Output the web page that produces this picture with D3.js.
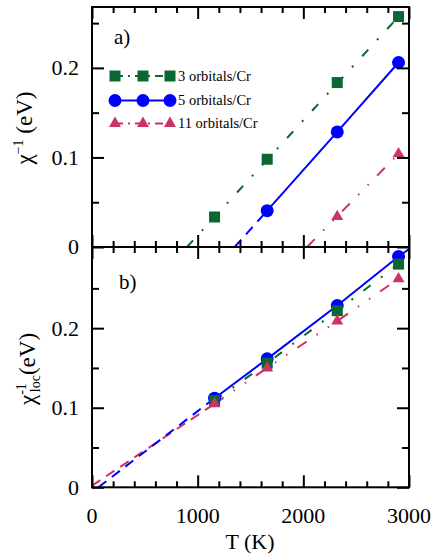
<!DOCTYPE html>
<html>
<head>
<meta charset="utf-8">
<script src="https://cdn.jsdelivr.net/npm/d3@7"></script>
</head>
<body style="margin:0">
<script>
// temperatures (K)
var temps = [1160, 1658, 2321, 2901];

// panel a: inverse susceptibility chi^-1 (eV)
var a_3orb = [0.0335, 0.098, 0.1836, 0.2573];
var a_5orb_T = [1658, 2321, 2901];
var a_5orb = [0.0406, 0.1285, 0.206];
var a_11orb_T = [2321, 2901];
var a_11orb = [0.034, 0.104];

// linear fits extended to zero (panel a)
var a_3orb_fit = [[899, 0], [2901, 0.2573]];
var a_5orb_ext = [[1350, 0], [1658, 0.0406]];
var a_11orb_fit = [[2035, 0], [2901, 0.104]];

// panel b: local inverse susceptibility (eV)
var b_3orb = [0.109, 0.156, 0.222, 0.2805];
var b_5orb = [0.112, 0.1614, 0.2285, 0.29];
var b_11orb = [0.105, 0.15, 0.209, 0.262];
var b_5orb_ext = [[60, 0], [1160, 0.112]];
var b_5orb_tail = [[2901, 0.29], [3000, 0.2995]];
var b_11orb_ext = [[0, 0.002], [1160, 0.105]];

var legend_labels = ['3 orbitals/Cr', '5 orbitals/Cr', '11 orbitals/Cr'];
var xTicks = [0, 1000, 2000, 3000];

var width = 435, height = 556;
var left = 92, right = 409;
var green = '#0a6632', blue = '#0000ff', pink = '#cc3366';
var fontName = 'Times New Roman';

var svg = d3.select('body').append('svg')
  .attr('width', width).attr('height', height);

var x = d3.scaleLinear().domain([0, 3000]).range([left, right]);
var ya = d3.scaleLinear().domain([0, 0.268]).range([247, 7]);
var yb = d3.scaleLinear().domain([0, 0.302]).range([487.3, 247]);

var line = function(yScale){
  return d3.line().x(function(d){ return x(d[0]); }).y(function(d){ return yScale(d[1]); });
};
function zip(ts, vs){ return ts.map(function(t, i){ return [t, vs[i]]; }); }

var dashDot = '9,13,2,13';
var dashDotDot = '11,12,1.5,12,1.5,12';
var dashed = '10,7';

function drawPath(g, data, yScale, color, dash, w){
  g.append('path').datum(data)
    .attr('d', line(yScale))
    .attr('fill', 'none')
    .attr('stroke', color)
    .attr('stroke-width', w || 2)
    .attr('stroke-dasharray', dash || null);
}

function drawMarkers(g, data, yScale, kind){
  var sel = g.append('g').selectAll('.m').data(data).enter();
  if(kind == 'square'){
    sel.append('rect')
      .attr('x', function(d){ return x(d[0]) - 5.5; })
      .attr('y', function(d){ return yScale(d[1]) - 5.5; })
      .attr('width', 11).attr('height', 11)
      .attr('fill', green);
  } else if(kind == 'circle'){
    sel.append('circle')
      .attr('cx', function(d){ return x(d[0]); })
      .attr('cy', function(d){ return yScale(d[1]); })
      .attr('r', 6.5).attr('fill', blue);
  } else {
    sel.append('path')
      .attr('d', d3.symbol().type(d3.symbolTriangle).size(62))
      .attr('transform', function(d){ return 'translate(' + x(d[0]) + ',' + yScale(d[1]) + ')'; })
      .attr('fill', pink);
  }
}

function label(parent, size){
  return parent.append('text').attr('font-family', fontName).attr('font-size', size);
}

// clip areas
svg.append('clipPath').attr('id', 'clipA').append('rect')
  .attr('x', left).attr('y', 7).attr('width', right - left).attr('height', 240);
svg.append('clipPath').attr('id', 'clipB').append('rect')
  .attr('x', left).attr('y', 247).attr('width', right - left).attr('height', 240.3);

// ---- panel a ----
var ga = svg.append('g').attr('clip-path', 'url(#clipA)');
drawPath(ga, a_3orb_fit, ya, green, dashDot);
drawPath(ga, a_5orb_ext, ya, blue, dashed);
drawPath(ga, zip(a_5orb_T, a_5orb), ya, blue);
drawPath(ga, a_11orb_fit, ya, pink, dashDotDot);
var gam = svg.append('g');
drawMarkers(gam, zip(temps, a_3orb), ya, 'square');
drawMarkers(gam, zip(a_5orb_T, a_5orb), ya, 'circle');
drawMarkers(gam, zip(a_11orb_T, a_11orb), ya, 'triangle');

// ---- panel b ----
var gb = svg.append('g').attr('clip-path', 'url(#clipB)');
drawPath(gb, b_11orb_ext, yb, pink, dashed);
drawPath(gb, b_5orb_ext, yb, blue, dashed);
drawPath(gb, zip(temps, b_11orb), yb, pink, dashDotDot);
drawPath(gb, zip(temps, b_3orb), yb, green, dashDot);
drawPath(gb, zip(temps, b_5orb).concat(b_5orb_tail.slice(1)), yb, blue);
var gbm = svg.append('g');
drawMarkers(gbm, zip(temps, b_5orb), yb, 'circle');
drawMarkers(gbm, zip(temps, b_3orb), yb, 'square');
drawMarkers(gbm, zip(temps, b_11orb), yb, 'triangle');

// ---- axes (ticks inside, on all sides) ----
function axes(yScale, yMajor, yMinor, top, bottom){
  var g = svg.append('g');
  g.append('g').attr('transform', 'translate(' + left + ',0)')
    .call(d3.axisRight(yScale).tickValues(yMajor).tickSize(12).tickFormat(''));
  g.append('g').attr('transform', 'translate(' + left + ',0)')
    .call(d3.axisRight(yScale).tickValues(yMinor).tickSize(7).tickFormat(''));
  g.append('g').attr('transform', 'translate(' + right + ',0)')
    .call(d3.axisLeft(yScale).tickValues(yMajor).tickSize(12).tickFormat(''));
  g.append('g').attr('transform', 'translate(' + right + ',0)')
    .call(d3.axisLeft(yScale).tickValues(yMinor).tickSize(7).tickFormat(''));
  var minorX = d3.range(200, 3000, 200).filter(function(v){ return v % 1000 != 0; });
  g.append('g').attr('transform', 'translate(0,' + top + ')')
    .call(d3.axisBottom(x).tickValues(xTicks).tickSize(12).tickFormat(''));
  g.append('g').attr('transform', 'translate(0,' + top + ')')
    .call(d3.axisBottom(x).tickValues(minorX).tickSize(6).tickFormat(''));
  g.append('g').attr('transform', 'translate(0,' + bottom + ')')
    .call(d3.axisTop(x).tickValues(xTicks).tickSize(12).tickFormat(''));
  g.append('g').attr('transform', 'translate(0,' + bottom + ')')
    .call(d3.axisTop(x).tickValues(minorX).tickSize(6).tickFormat(''));
  g.selectAll('.domain').remove();
  g.selectAll('line').attr('stroke', '#000').attr('stroke-width', 2);
  yMajor.forEach(function(v){
    label(svg, 22).attr('x', 79).attr('y', yScale(v)).attr('dy', '0.34em')
      .attr('text-anchor', 'end')
      .text(v == 0 ? '0' : d3.format('.1f')(v));
  });
  g.append('rect').attr('x', left).attr('y', top)
    .attr('width', right - left).attr('height', bottom - top)
    .attr('fill', 'none').attr('stroke', '#000').attr('stroke-width', 2);
}
axes(ya, [0, 0.1, 0.2], [0.05, 0.15, 0.25], 7, 247);
axes(yb, [0, 0.1, 0.2], [0.05, 0.15, 0.25], 247, 487.3);

// x tick labels
xTicks.forEach(function(v){
  label(svg, 22).attr('x', x(v)).attr('y', 523).attr('text-anchor', 'middle').text(v);
});

label(svg, 22).attr('x', 250).attr('y', 549).attr('text-anchor', 'middle').text('T (K)');

// y axis titles
var ta = label(svg, 23)
  .attr('transform', 'translate(32,128) rotate(-90)')
  .attr('text-anchor', 'middle');
ta.append('tspan').text('χ');
ta.append('tspan').attr('font-size', 14).attr('dy', -9).text('−1');
ta.append('tspan').attr('dy', 9).text(' (eV)');

var tb = label(svg, 23)
  .attr('transform', 'translate(35,369) rotate(-90)')
  .attr('text-anchor', 'middle');
tb.append('tspan').text('χ');
tb.append('tspan').attr('font-size', 14).attr('dy', -9).text('-1');
tb.append('tspan').attr('font-size', 14).attr('dx', -9).attr('dy', 14).text('loc');
tb.append('tspan').attr('dy', -5).text('(eV)');

// panel labels
label(svg, 21).attr('x', 114).attr('y', 44).text('a)');
label(svg, 21).attr('x', 119).attr('y', 289).text('b)');

// legend
var legendY = [76, 100.5, 123.5];
var legendX = [115, 143, 170];
var legendColors = [green, blue, pink];
var legendDash = ['8,5,2,5', null, '8,5,2,5'];
var legendKinds = ['square', 'circle', 'triangle'];
var lg = svg.append('g');
legend_labels.forEach(function(lab, i){
  var yy = d3.scaleLinear().domain([0, 1]).range([legendY[i], legendY[i]]);
  var pts = legendX.map(function(px){ return [x.invert(px), 0]; });
  drawPath(lg, [pts[0], pts[2]], yy, legendColors[i], legendDash[i]);
  drawMarkers(lg, pts, yy, legendKinds[i]);
  label(svg, 14.5).attr('x', 178).attr('y', legendY[i]).attr('dy', '0.34em').text(lab);
});
</script>
</body>
</html>
